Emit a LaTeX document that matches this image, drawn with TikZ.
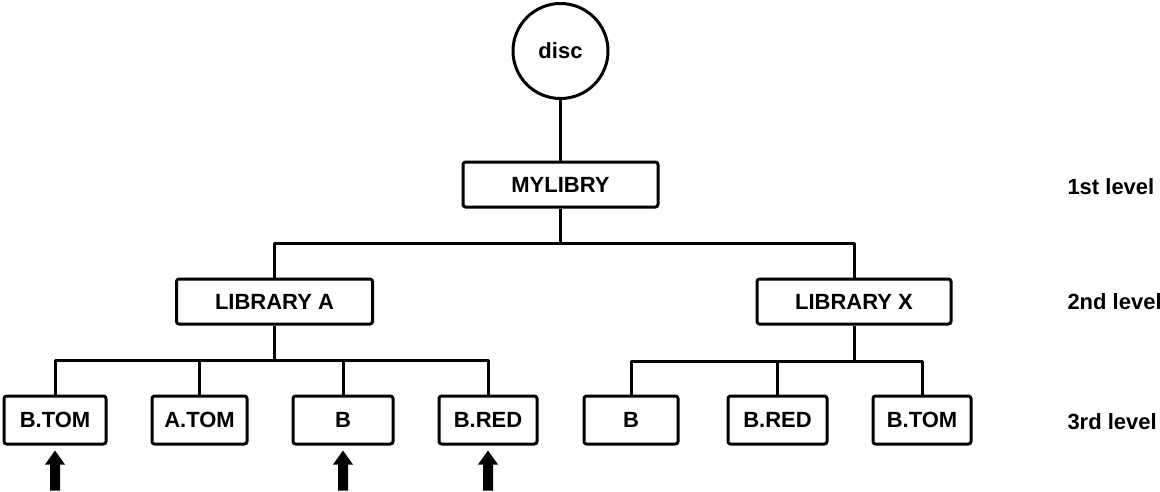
\documentclass[tikz,border=0pt]{standalone}
\usepackage{fontspec}
\setmainfont{Liberation Sans}
\usetikzlibrary{calc}
\begin{document}
\begin{tikzpicture}[x=1pt,y=-1pt,
  line width=3pt, line join=round,
  every node/.style={font=\fontsize{22}{26}\selectfont\bfseries, inner sep=0pt},
  libbox/.style={draw, rounded corners=2.5pt, minimum height=45pt, minimum width=196pt},
  filebox/.style={draw, rounded corners=2.5pt, minimum height=48pt},
  levellabel/.style={anchor=west},
  marker/.style={fill=black, draw=none}]
\useasboundingbox (0,0) rectangle (1160,491);

% disc and root library
\node[draw, circle, minimum size=95pt] (disc) at (560.5,51) {disc};
\node[libbox, minimum width=195pt] (my) at (560.5,184.5) {MYLIBRY};

% second level
\node[libbox] (la) at (274.5,301.5) {LIBRARY A};
\node[libbox, minimum width=194pt] (lx) at (854,301.5) {LIBRARY X};

% third level
\node[filebox, minimum width=102pt] (a1) at (55,420) {B.TOM};
\node[filebox, minimum width=95pt]  (a2) at (199.5,420) {A.TOM};
\node[filebox, minimum width=100pt] (a3) at (343,420) {B};
\node[filebox, minimum width=98pt]  (a4) at (488,420) {B.RED};
\node[filebox, minimum width=94pt]  (x1) at (631,420) {B};
\node[filebox, minimum width=99pt]  (x2) at (777.5,420) {B.RED};
\node[filebox, minimum width=98pt]  (x3) at (922,420) {B.TOM};

% level captions
\node[levellabel] (l1) at (1066,187) {1st level};
\node[levellabel] (l2) at (1066,302) {2nd level};
\node[levellabel] (l3) at (1066,422) {3rd level};

% bus junctions
\coordinate (hT) at (560.5,243);
\coordinate (hA) at (274.5,360);
\coordinate (hX) at (854,361);

% tree connectors
\draw (disc.south) -- (my.north);
\draw (my.south) -- (hT);
\draw (la.north) |- (hT) -| (lx.north);

\draw (la.south) -- (hA);
\draw (a1.north) |- (hA) -| (a4.north);
\draw (a2.north) -- (a2.north |- hA);
\draw (a3.north) -- (a3.north |- hA);

\draw (lx.south) -- (hX);
\draw (x1.north) |- (hX) -| (x3.north);
\draw (x2.north) -- (x2.north |- hX);

% block arrows pointing up at the marked files
\foreach \f in {a1,a3,a4}{
  \fill[marker] ([yshift=-5pt]\f.south) -- ++(10,14) -- ++(-5,0) -- ++(0,26)
        -- ++(-10,0) -- ++(0,-26) -- ++(-5,0) -- cycle;
}
\end{tikzpicture}
\end{document}
